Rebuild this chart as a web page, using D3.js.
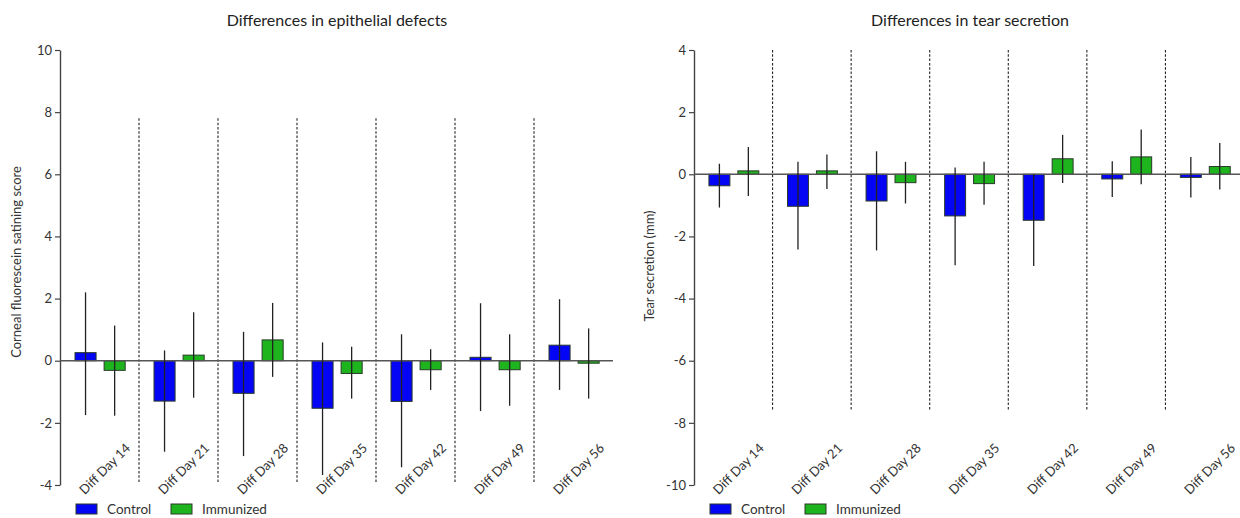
<!DOCTYPE html>
<html>
<head>
<meta charset="utf-8">
<script src="https://cdn.jsdelivr.net/npm/d3@7"></script>
<style>
  html, body { margin: 0; padding: 0; background: #fff; }
  svg { display: block; font-family: Lato, "Open Sans", sans-serif; }
</style>
</head>
<body>
<svg id="chart" width="1240" height="518"></svg>
<script>
// Week-by-week differences from baseline, Control vs Immunized
const categories = ["Diff Day 14", "Diff Day 21", "Diff Day 28", "Diff Day 35", "Diff Day 42", "Diff Day 49", "Diff Day 56"];
const groups = ["Control", "Immunized"];

// Corneal fluorescein staining score: mean and error-bar limits
const epiControl      = [0.26, -1.30, -1.05, -1.53, -1.31, 0.11, 0.50];
const epiControlLow   = [-1.75, -2.93, -3.07, -3.68, -3.43, -1.62, -0.94];
const epiControlHigh  = [2.20, 0.33, 0.93, 0.59, 0.85, 1.85, 1.98];
const epiImmunized     = [-0.31, 0.18, 0.67, -0.41, -0.29, -0.29, -0.08];
const epiImmunizedLow  = [-1.77, -1.19, -0.52, -1.22, -0.94, -1.45, -1.22];
const epiImmunizedHigh = [1.13, 1.56, 1.86, 0.45, 0.37, 0.85, 1.04];

// Tear secretion (mm): mean and error-bar limits
const tearControl      = [-0.37, -1.03, -0.86, -1.34, -1.48, -0.15, -0.10];
const tearControlLow   = [-1.07, -2.42, -2.45, -2.93, -2.95, -0.73, -0.75];
const tearControlHigh  = [0.34, 0.40, 0.74, 0.22, 0.00, 0.42, 0.56];
const tearImmunized     = [0.11, 0.11, -0.27, -0.30, 0.50, 0.56, 0.25];
const tearImmunizedLow  = [-0.70, -0.47, -0.94, -0.98, -0.28, -0.32, -0.49];
const tearImmunizedHigh = [0.88, 0.64, 0.40, 0.40, 1.27, 1.44, 1.01];

// Axis tick values
const epiTicks  = [-4, -2, 0, 2, 4, 6, 8, 10];
const tearTicks = [-10, -8, -6, -4, -2, 0, 2, 4];

const colors = { Control: "#0505f5", Immunized: "#1db41d" };
const textColor = "#333";

const svg = d3.select("#chart");

function rows(ctrl, ctrlLo, ctrlHi, imm, immLo, immHi) {
  const out = [];
  categories.forEach((c, i) => {
    out.push({ cat: c, group: "Control", value: ctrl[i], lo: ctrlLo[i], hi: ctrlHi[i] });
    out.push({ cat: c, group: "Immunized", value: imm[i], lo: immLo[i], hi: immHi[i] });
  });
  return out;
}

function drawPanel(opt) {
  const g = svg.append("g");
  const x = d3.scaleBand().domain(categories).range(opt.xRange).padding(0);
  const bw = x.bandwidth();
  const xSub = d3.scaleBand().domain(groups).range([bw * 0.19, bw * 0.825]).paddingInner(0.276);
  const y = d3.scaleLinear().domain(opt.yDomain).range([485, 50]);

  // title
  g.append("text")
    .attr("x", opt.titleX).attr("y", 26)
    .attr("text-anchor", "middle")
    .attr("font-size", 16)
    .attr("fill", "#222")
    .text(opt.title);

  // y axis label
  g.append("text")
    .attr("transform", `translate(${opt.yLabelX},${opt.yLabelY}) rotate(-90)`)
    .attr("text-anchor", "middle")
    .attr("font-size", 13)
    .attr("fill", textColor)
    .text(opt.yLabel);

  // dashed separators between weeks
  const seps = categories.slice(1).map(c => x(c));
  g.selectAll(".sep").data(seps).join("line")
    .attr("x1", d => d).attr("x2", d => d)
    .attr("y1", y(opt.sepTop)).attr("y2", y(opt.sepBottom))
    .attr("stroke", "#222").attr("stroke-width", 1.1)
    .attr("stroke-dasharray", "2.5,1.8");

  // y axis
  const axis = d3.axisLeft(y).tickValues(opt.ticks).tickFormat(d => String(d))
    .tickSize(5).tickSizeOuter(0).tickPadding(3);
  const ag = g.append("g").attr("transform", `translate(${opt.xRange[0]},0)`).call(axis);
  ag.select(".domain").attr("stroke", "#444").attr("stroke-width", 1.4);
  ag.selectAll(".tick line").attr("stroke", "#444").attr("stroke-width", 1.2);
  ag.selectAll(".tick text").attr("font-size", 13).attr("fill", textColor)
    .attr("font-family", "Lato, 'Open Sans', sans-serif");

  const data = rows(...opt.series);

  // bars
  g.selectAll(".bar").data(data).join("rect")
    .attr("x", d => x(d.cat) + xSub(d.group))
    .attr("width", xSub.bandwidth())
    .attr("y", d => y(Math.max(0, d.value)))
    .attr("height", d => Math.abs(y(d.value) - y(0)))
    .attr("fill", d => colors[d.group])
    .attr("stroke", "#2a3a2a").attr("stroke-width", 1);

  // zero line
  g.append("line")
    .attr("x1", opt.xRange[0]).attr("x2", opt.xRange[1])
    .attr("y1", y(0)).attr("y2", y(0))
    .attr("stroke", "#555").attr("stroke-width", 1.4);

  // error bars
  g.selectAll(".err").data(data).join("line")
    .attr("x1", d => x(d.cat) + xSub(d.group) + xSub.bandwidth() / 2)
    .attr("x2", d => x(d.cat) + xSub(d.group) + xSub.bandwidth() / 2)
    .attr("y1", d => y(d.hi)).attr("y2", d => y(d.lo))
    .attr("stroke", "#222").attr("stroke-width", 1.3);

  // category labels
  g.selectAll(".cat").data(categories).join("text")
    .attr("transform", d => `translate(${x(d) + bw * 0.9},${449}) rotate(-45)`)
    .attr("text-anchor", "end")
    .attr("font-size", 13)
    .attr("fill", textColor)
    .text(d => d);

  // legend
  const lg = g.append("g").attr("transform", `translate(${opt.legendX},504)`);
  groups.forEach((grp, i) => {
    const gx = i * 95;
    lg.append("rect").attr("x", gx).attr("y", 0).attr("width", 21).attr("height", 10)
      .attr("fill", colors[grp]).attr("stroke", "#2a3a2a").attr("stroke-width", 1);
    lg.append("text").attr("x", gx + 31).attr("y", 10)
      .attr("font-size", 13.5).attr("fill", textColor).text(grp);
  });
}

drawPanel({
  title: "Differences in epithelial defects",
  titleX: 337,
  yLabel: "Corneal fluorescein satining score",
  yLabelX: 21, yLabelY: 262,
  xRange: [60, 613],
  yDomain: [-4, 10],
  ticks: epiTicks,
  sepTop: 7.8, sepBottom: -3.9,
  series: [epiControl, epiControlLow, epiControlHigh, epiImmunized, epiImmunizedLow, epiImmunizedHigh],
  legendX: 76
});

drawPanel({
  title: "Differences in tear secretion",
  titleX: 970,
  yLabel: "Tear secretion (mm)",
  yLabelX: 654, yLabelY: 266,
  xRange: [694, 1244],
  yDomain: [-10, 4],
  ticks: tearTicks,
  sepTop: 4, sepBottom: -7.6,
  series: [tearControl, tearControlLow, tearControlHigh, tearImmunized, tearImmunizedLow, tearImmunizedHigh],
  legendX: 710
});
</script>
</body>
</html>
